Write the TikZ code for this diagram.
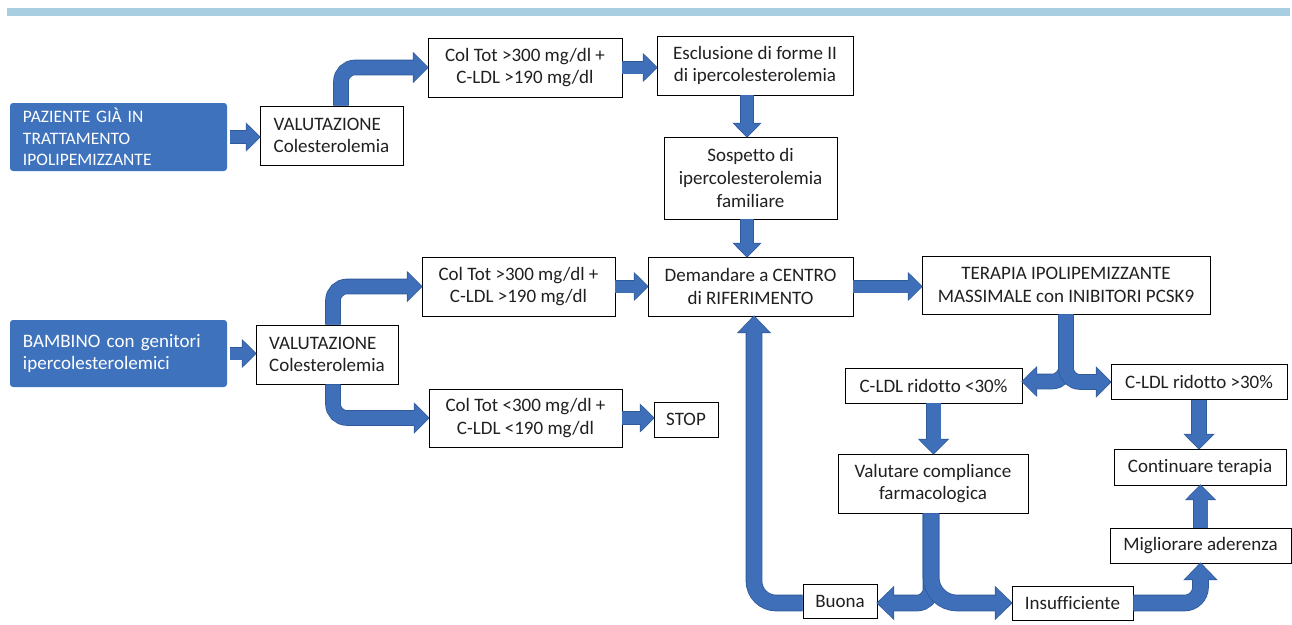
\documentclass[tikz,border=0pt]{standalone}
\usepackage{fontspec}
\setmainfont{Carlito}[Ligatures=NoCommon]
\usetikzlibrary{arrows.meta}
\definecolor{arrowblue}{HTML}{3E6FB8}
\definecolor{arrowdark}{HTML}{2F5A9A}
\definecolor{boxblue}{HTML}{3F72BC}
\definecolor{topbar}{HTML}{A8CEE2}
\definecolor{txt}{HTML}{202020}
\tikzset{
  box/.style={draw=black, line width=0.8pt, fill=white, text=txt, inner sep=0pt, align=center,
    font=\fontsize{19}{22.7}\selectfont},
  bluebox/.style={fill=boxblue, rounded corners=3pt, text=white, align=left, inner xsep=13pt,
    inner ysep=0pt, minimum width=217pt, text width=191pt},
  arrS/.style={arrowblue, line width=12pt, rounded corners=14pt, -{Triangle[width=25pt,length=13pt]}},
  arrSo/.style={arrowdark, line width=13.6pt, rounded corners=14pt, shorten >=-1.1pt, -{Triangle[width=28.4pt,length=14.9pt]}},
  arrM/.style={arrowblue, line width=14pt, rounded corners=14pt, -{Triangle[width=27pt,length=14pt]}},
  arrMo/.style={arrowdark, line width=15.6pt, rounded corners=14pt, shorten >=-1.1pt, -{Triangle[width=30.4pt,length=15.9pt]}},
  arrB/.style={arrowblue, line width=15pt, rounded corners=16pt, -{Triangle[width=30pt,length=16pt]}},
  arrBo/.style={arrowdark, line width=16.6pt, rounded corners=16pt, shorten >=-1.1pt, -{Triangle[width=33.4pt,length=17.9pt]}},
}
\newcommand\blk[3][]{\draw[#2o,#1] #3; \draw[#2,#1] #3;}
\begin{document}
\begin{tikzpicture}[x=1pt,y=-1pt]
\useasboundingbox (0,0) rectangle (1292,624);
\fill[topbar] (7,8) rectangle (1290,16);

% nodes
\node[bluebox, minimum height=68pt, font=\fontsize{17.5}{21.3}\selectfont] (pz) at (118.5,137) {PAZIENTE GIÀ IN\\TRATTAMENTO\\IPOLIPEMIZZANTE};
\node[box, minimum width=143pt, minimum height=59pt, align=left] (val1) at (331.5,135.5) {VALUTAZIONE\\Colesterolemia};
\node[box, minimum width=194pt, minimum height=59pt] (ct1) at (525,67.5) {Col Tot >300 mg/dl +\\C-LDL >190 mg/dl};
\node[box, minimum width=196pt, minimum height=59pt] (escl) at (755,65.5) {Esclusione di forme II\\di ipercolesterolemia};
\node[box, minimum width=173pt, minimum height=82pt] (sosp) at (750.5,178) {Sospetto di\\ipercolesterolemia\\familiare};
\node[box, minimum width=205pt, minimum height=59pt] (dem) at (750.5,286.5) {Demandare a CENTRO\\di RIFERIMENTO};
\node[box, minimum width=288pt, minimum height=58pt] (ter) at (1066,285) {TERAPIA IPOLIPEMIZZANTE\\MASSIMALE con INIBITORI PCSK9};
\node[bluebox, minimum height=67pt, font=\fontsize{19}{22.7}\selectfont] (bam) at (118.5,353.5) {BAMBINO con genitori\\ipercolesterolemici};
\node[box, minimum width=142pt, minimum height=59pt, align=left] (val2) at (327,354.5) {VALUTAZIONE\\Colesterolemia};
\node[box, minimum width=193pt, minimum height=59pt] (ct2) at (518.5,286.5) {Col Tot >300 mg/dl +\\C-LDL >190 mg/dl};
\node[box, minimum width=193pt, minimum height=58pt] (ct3) at (525.5,418) {Col Tot <300 mg/dl +\\C-LDL <190 mg/dl};
\node[box, minimum width=64pt, minimum height=35pt] (stop) at (686,419.5) {STOP};
\node[box, minimum width=177pt, minimum height=35pt] (lt30) at (933.5,385.5) {C-LDL ridotto <30\%};
\node[box, minimum width=176pt, minimum height=35pt] (gt30) at (1199,382) {C-LDL ridotto >30\%};
\node[box, minimum width=190pt, minimum height=59pt] (valc) at (933,483.5) {Valutare compliance\\farmacologica};
\node[box, minimum width=172pt, minimum height=36pt] (cont) at (1200,467) {Continuare terapia};
\node[box, minimum width=181pt, minimum height=35pt] (migl) at (1200.5,545.5) {Migliorare aderenza};
\node[box, minimum width=74pt, minimum height=34pt] (buona) at (840,601) {Buona};
\node[box, minimum width=121pt, minimum height=34pt] (insuf) at (1072.5,603) {Insufficiente};

% connectors
\blk{arrS}{([xshift=3pt]pz.east) -- (val1.west |- pz.east)}
\blk{arrM}{([xshift=9.5pt]val1.north) |- (ct1.west)}
\blk{arrS}{(ct1.east) -- (escl.west |- ct1.east)}
\blk{arrS}{([xshift=-8pt]escl.south) -- ([xshift=-8pt]escl.south |- sosp.north)}
\blk{arrS}{([xshift=-3.5pt]sosp.south) -- ([xshift=-3.5pt]sosp.south |- dem.north)}
\blk{arrS}{(dem.east) -- (ter.west |- dem.east)}
\blk{arrS}{([xshift=3pt]bam.east) -- (val2.west |- bam.east)}
\blk{arrM}{([xshift=6pt]val2.north) |- (ct2.west)}
\blk{arrM}{([xshift=6pt]val2.south) |- (ct3.west)}
\blk{arrS}{(ct2.east) -- (dem.west |- ct2.east)}
\blk{arrS}{(ct3.east) -- (stop.west |- ct3.east)}
\blk{arrM}{(ter.south) |- ([yshift=4pt]lt30.east)}
\blk{arrM}{(ter.south) |- (gt30.west)}
\blk{arrM}{(lt30.south) -- (lt30.south |- valc.north)}
\blk{arrM}{(gt30.south) -- (gt30.south |- cont.north)}
\blk{arrM}{(migl.north) -- (migl.north |- cont.south)}
\blk[rounded corners=14pt]{arrB}{([xshift=-2pt]valc.south) |- ([yshift=-2pt]buona.east)}
\blk[rounded corners=26pt]{arrB}{([xshift=-2pt]valc.south) |- (insuf.west)}
\blk[rounded corners=22pt]{arrB}{([yshift=-2pt]buona.west) -| ([xshift=3.5pt]dem.south)}
\blk{arrB}{(insuf.east) -| (migl.south)}
\end{tikzpicture}
\end{document}
